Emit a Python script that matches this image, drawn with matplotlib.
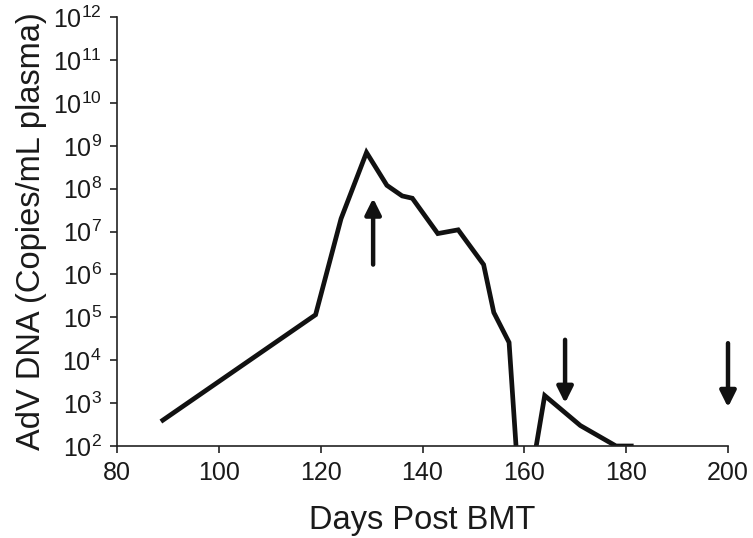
import matplotlib
matplotlib.use("Agg")
from matplotlib import pyplot as plt

plt.rcParams['font.family'] = ['Liberation Sans', 'DejaVu Sans']
plt.rcParams['mathtext.fontset'] = 'custom'
plt.rcParams['mathtext.rm'] = 'Liberation Sans'
plt.rcParams['mathtext.default'] = 'regular'

## DATA
days = [89, 119, 124, 129, 133, 136, 138, 143, 147, 152, 154, 157, 159.5, 164, 171, 178, 181]
copies = [4e2, 1.15e5, 2e7, 7e8, 1.2e8, 6.8e7, 6e7, 9e6, 1.1e7, 1.7e6, 1.3e5, 2.6e4, 1, 1.5e3, 3e2, 1e2, 1e2]

# arrows: (day, tail value, tip value)
arrowDays = [130.3, 168, 200]
arrowTails = [1.7e6, 3e4, 2.5e4]
arrowTips = [6e7, 1e3, 8e2]

xTicks = [80, 100, 120, 140, 160, 180, 200]
yTicks = [10.0 ** k for k in range(2, 13)]

## PLOT
fig = plt.figure(figsize=(7.53, 5.38), dpi=100)
ax = fig.add_axes([0.1554, 0.171, 0.8114, 0.797])

ax.plot(days, copies, color='#111111', lw=3.4, solid_joinstyle='miter')

for d, t0, t1 in zip(arrowDays, arrowTails, arrowTips):
    ax.annotate('', xy=(d, t1), xytext=(d, t0),
                arrowprops=dict(arrowstyle='-|>', color='#111111', lw=3.2,
                                mutation_scale=24, shrinkA=0, shrinkB=0))

ax.set_yscale('log')
ax.set_xlim(80, 200)
ax.set_ylim(1e2, 1e12)
ax.set_xticks(xTicks)
ax.set_yticks(yTicks)
ax.minorticks_off()
ax.set_yticklabels([r'$10^{%d}$' % k for k in range(2, 13)])

for side in ['top', 'right']:
    ax.spines[side].set_visible(False)
for side in ['left', 'bottom']:
    ax.spines[side].set_linewidth(1.2)
    ax.spines[side].set_color('#222222')

ax.tick_params(direction='out', length=5, width=1.2, colors='#222222',
               labelsize=18, labelcolor='#1a1a1a', pad=6)

ax.set_xlabel('Days Post BMT', fontsize=23.5, color='#1a1a1a', labelpad=14)
ax.set_ylabel('AdV DNA (Copies/mL plasma)', fontsize=23.5, color='#1a1a1a', labelpad=4)

fig.savefig('out.png', dpi=100)
